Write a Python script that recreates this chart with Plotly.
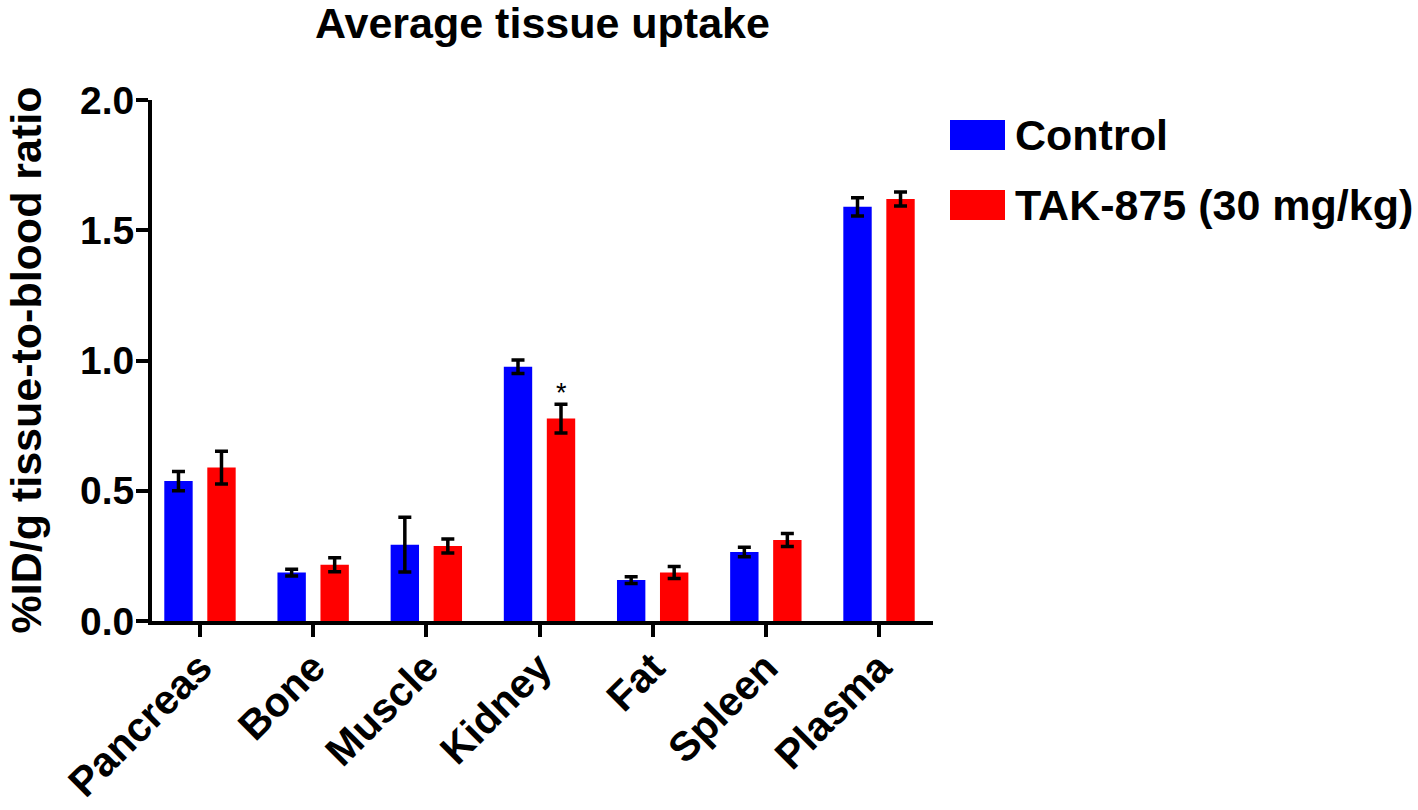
import plotly.graph_objects as go

categories = ["Pancreas", "Bone", "Muscle", "Kidney", "Fat", "Spleen", "Plasma"]
control_vals = [0.537, 0.186, 0.293, 0.976, 0.157, 0.265, 1.590]
control_err = [0.037, 0.013, 0.105, 0.026, 0.013, 0.018, 0.035]
tak_vals = [0.589, 0.216, 0.288, 0.777, 0.186, 0.311, 1.620]
tak_err = [0.063, 0.027, 0.027, 0.055, 0.023, 0.025, 0.027]
series_names = ["Control", "TAK-875 (30 mg/kg)"]
series_colors = ["#0000FF", "#FF0000"]
y_ticks = [0.0, 0.5, 1.0, 1.5, 2.0]

FONT = "Liberation Sans, Arial, sans-serif"
PL, PR, PT, PB = 152, 933, 100, 621
PW, PH = PR - PL, PB - PT

fig = go.Figure()
for name, vals, errs, col in [
    (series_names[0], control_vals, control_err, series_colors[0]),
    (series_names[1], tak_vals, tak_err, series_colors[1]),
]:
    fig.add_trace(go.Bar(
        x=categories, y=vals, name=name,
        marker=dict(color=col, line=dict(width=0)),
        error_y=dict(type="data", array=errs, visible=True,
                     color="black", thickness=3.5, width=6.5),
        showlegend=False,
    ))

# significance marker above Kidney / TAK-875
fig.add_annotation(x="Kidney", y=0.875, text="*", showarrow=False,
                   xshift=21.5, yanchor="middle",
                   font=dict(family=FONT, size=27, color="black"))

# y-axis title as rotated annotation
fig.add_annotation(xref="paper", yref="paper", x=(25 - PL) / PW, y=0.5,
                   text="<b>%ID/g tissue-to-blood ratio</b>", textangle=-90,
                   showarrow=False, xanchor="center", yanchor="middle",
                   font=dict(family=FONT, size=43, color="black"))

# custom legend (large swatches)
leg_x0, leg_x1 = 950, 1005
for i, (name, col) in enumerate(zip(series_names, series_colors)):
    yc = 135 + i * 70
    fig.add_shape(type="rect", xref="paper", yref="paper",
                  x0=(leg_x0 - PL) / PW, x1=(leg_x1 - PL) / PW,
                  y0=(PB - (yc + 15)) / PH, y1=(PB - (yc - 15)) / PH,
                  fillcolor=col, line=dict(width=0))
    fig.add_annotation(xref="paper", yref="paper",
                       x=(1013 - PL) / PW, y=(PB - yc) / PH,
                       text="<b>%s</b>" % name, showarrow=False,
                       xanchor="left", yanchor="middle",
                       font=dict(family=FONT, size=43, color="black"))

fig.update_layout(
    width=1418, height=810,
    paper_bgcolor="white", plot_bgcolor="white",
    margin=dict(l=PL, r=1418 - PR, t=PT, b=810 - PB),
    barmode="group", bargap=0.24, bargroupgap=0.34,
    title=dict(text="<b>Average tissue uptake</b>", x=0.5, xref="paper",
               xanchor="center", y=1 - 23 / 810, yanchor="middle",
               font=dict(family=FONT, size=43, color="black")),
    font=dict(family=FONT, color="black"),
)
fig.update_xaxes(
    range=[-0.424, 6.477], showline=True, linecolor="black", linewidth=4,
    ticks="outside", ticklen=12, tickwidth=4, tickcolor="black",
    tickangle=-45, tickfont=dict(family=FONT, size=41, color="black"),
    tickvals=categories, ticktext=["<b>%s</b>" % c for c in categories],
    ticklabelstandoff=-10,
    showgrid=False, zeroline=False, automargin=False,
)
fig.update_yaxes(
    range=[0, 2.0], showline=True, linecolor="black", linewidth=4,
    ticks="outside", ticklen=12, tickwidth=4, tickcolor="black",
    tickvals=y_ticks, ticktext=["<b>%.1f</b>" % v for v in y_ticks],
    tickfont=dict(family=FONT, size=39, color="black"),
    ticklabelstandoff=-6,
    showgrid=False, zeroline=False, automargin=False,
)

fig.write_html("out.html", config={"displayModeBar": False},
               post_script="document.body.style.margin='0';document.body.style.overflow='hidden';")
